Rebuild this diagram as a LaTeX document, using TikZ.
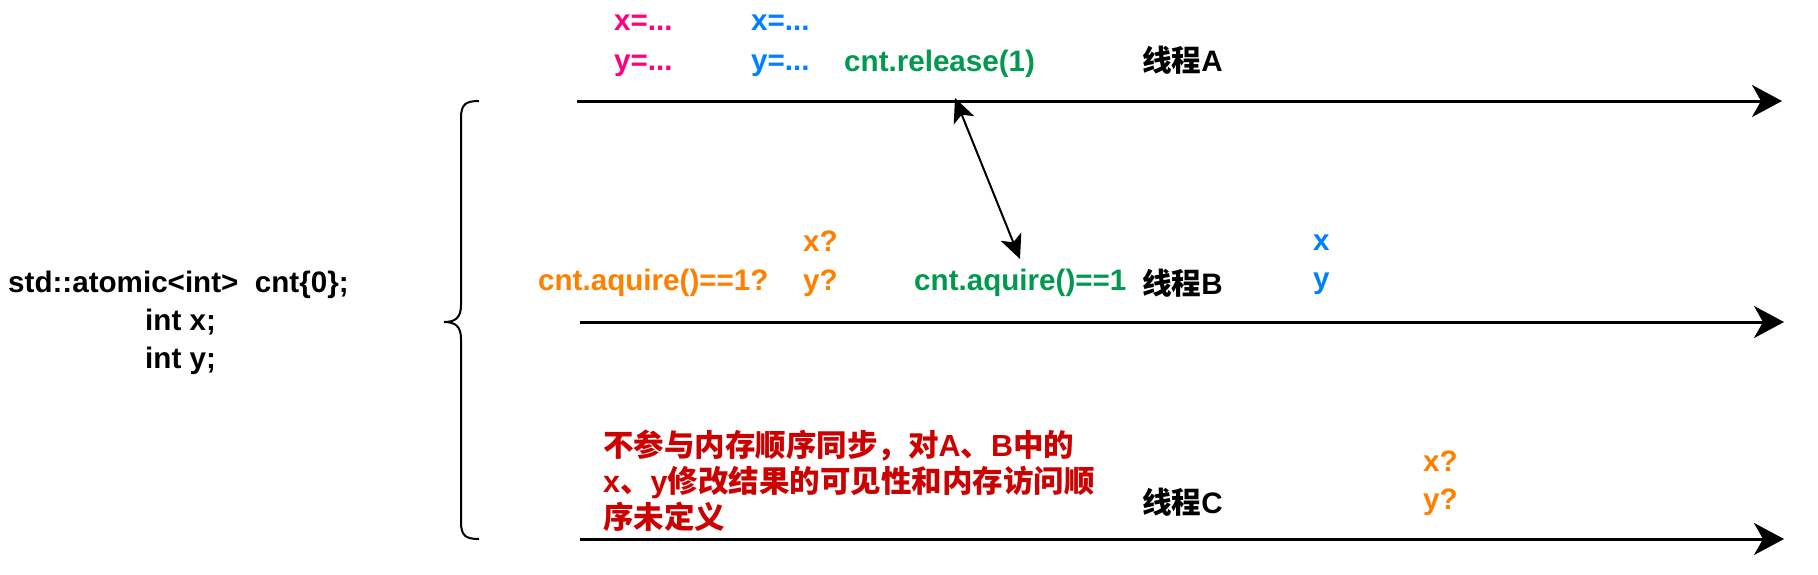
\documentclass[tikz,border=0pt]{standalone}
\usepackage{fontspec}
\setmainfont{Liberation Sans}
\newfontfamily\cjk{Noto Sans CJK SC}
\usetikzlibrary{arrows.meta}
\definecolor{cpink}{HTML}{FF0080}
\definecolor{cblue}{HTML}{007FFF}
\definecolor{cgreen}{HTML}{00994D}
\definecolor{corange}{HTML}{FF8000}
\definecolor{cred}{HTML}{CC0000}
\tikzset{
  txt/.style={inner sep=0pt, anchor=west, font=\fontsize{29.6}{35}\selectfont\bfseries, align=left},
  thread/.style={line width=3pt, -{Stealth[length=30pt,width=32pt,inset=9pt]}},
  sync/.style={line width=2pt, {Stealth[length=24pt,width=22pt,inset=6pt]}-{Stealth[length=24pt,width=22pt,inset=6pt]}},
  bracestyle/.style={line width=2pt}
}
\begin{document}
\begin{tikzpicture}[x=1pt,y=-1pt]
\useasboundingbox (0,0) rectangle (1818,574);
% left code
\node[txt] (decl) at (8,285) {std::atomic<int>\ \ cnt\{0\};};
\node[txt] (ix) at (145,322) {int x;};
\node[txt] (iy) at (145,361) {int y;};
% brace
\draw[bracestyle] (479,101) .. controls (466,101) and (461,104) .. (461,118)
  -- (461,305) .. controls (461,318) and (455,322) .. (444,322)
  .. controls (455,322) and (461,326) .. (461,339)
  -- (461,522) .. controls (461,536) and (466,539) .. (479,539);
% thread lines
\coordinate (a0) at (577,101); \coordinate (a1) at (1782,101);
\coordinate (b0) at (580,322); \coordinate (b1) at (1784,322);
\coordinate (c0) at (580,539); \coordinate (c1) at (1784,539);
\draw[thread] (a0) -- (a1);
\draw[thread] (b0) -- (b1);
\draw[thread] (c0) -- (c1);
% thread A
\node[txt, text=cpink] (ax1) at (614,23) {x=...};
\node[txt, text=cpink] (ay1) at (614,66) {y=...};
\node[txt, text=cblue] (ax2) at (751,23) {x=...};
\node[txt, text=cblue] (ay2) at (751,66) {y=...};
\node[txt, text=cgreen] (rel) at (844,64) {cnt.release(1)};
\node[txt] (tA) at (1142,60) {{\cjk\bfseries 线程}A};
% thread B
\node[txt, text=corange] (acq1) at (538,283) {cnt.aquire()==1?};
\node[txt, text=corange] (bx1) at (803,241) {x?};
\node[txt, text=corange] (by1) at (803,283) {y?};
\node[txt, text=cgreen] (acq) at (914,283) {cnt.aquire()==1};
\node[txt] (tB) at (1142,283) {{\cjk\bfseries 线程}B};
\node[txt, text=cblue] (bx2) at (1313,243) {x};
\node[txt, text=cblue] (by2) at (1313,284) {y};
% sync arrow
\coordinate (s0) at (955,98);
\coordinate (s1) at (1020,259);
\draw[sync] (s0) -- (s1);
% thread C
\node[txt, text=cred, font=\fontsize{30.5}{36}\selectfont\bfseries] (note) at (603,481) {{\cjk\bfseries 不参与内存顺序同步，对}A{\cjk\bfseries 、}B{\cjk\bfseries 中的}\\x{\cjk\bfseries 、}y{\cjk\bfseries 修改结果的可见性和内存访问顺}\\{\cjk\bfseries 序未定义}};
\node[txt] (tC) at (1142,502) {{\cjk\bfseries 线程}C};
\node[txt, text=corange] (cx) at (1423,461) {x?};
\node[txt, text=corange] (cy) at (1423,502) {y?};
\end{tikzpicture}
\end{document}
